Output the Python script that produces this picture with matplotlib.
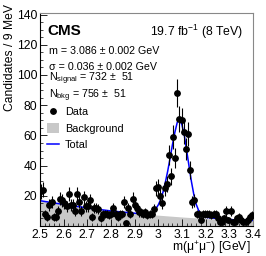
import matplotlib.pyplot as plt
import numpy as np
from matplotlib.lines import Line2D
from matplotlib.patches import Patch
from matplotlib.ticker import MultipleLocator

plt.rcParams['font.family'] = ['Liberation Sans', 'DejaVu Sans']
plt.rcParams['mathtext.fontset'] = 'custom'
plt.rcParams['mathtext.rm'] = 'Liberation Sans'
plt.rcParams['mathtext.it'] = 'Liberation Sans:italic'

# data: 100 bins of 9 MeV from 2.5 to 3.4 GeV
bin_lo = 2.5
bin_w = 0.009
counts = np.array([
    23, 24, 8, 6, 14, 16, 6, 6, 10, 18,
    17, 15, 13, 21, 14, 14, 10, 21, 16, 10,
    19, 13, 13, 17, 6, 12, 12, 11, 5, 8,
    8, 8, 7, 8, 12, 8, 6, 8, 8, 16,
    2, 12, 8, 18, 14, 12, 9, 9, 8, 9,
    7, 8, 8, 11, 25, 26, 20, 15, 25, 28,
    47, 33, 59, 45, 88, 71, 70, 62, 51, 61,
    37, 16, 17, 8, 8, 4, 8, 8, 8, 8,
    7, 8, 8, 5, 3, 3, 5, 10, 4, 10,
    3, 3, 5, 6, 4, 3, 3, 4, 6, 7,
])

# fit curves
bkg_m = [2.5, 2.6, 2.7, 2.8, 2.9, 3.0, 3.1, 3.2, 3.3, 3.4]
bkg_y = [16.8, 14.3, 12.0, 10.0, 8.5, 7.2, 6.0, 5.0, 4.3, 3.7]

tot_m = [2.5, 2.6, 2.7, 2.8, 2.9, 2.95, 2.96, 2.97, 2.98, 2.99, 3.00, 3.01,
         3.02, 3.03, 3.04, 3.05, 3.06, 3.07, 3.08, 3.086, 3.09, 3.10, 3.11,
         3.12, 3.13, 3.14, 3.15, 3.16, 3.17, 3.18, 3.19, 3.20, 3.25, 3.3, 3.4]
tot_y = [16.8, 14.3, 12.0, 10.0, 8.5, 7.9, 8.0, 8.6, 9.8, 11.5, 14.0, 17.5,
         22.5, 29.0, 36.5, 45.0, 54.0, 62.0, 68.5, 70.5, 70.5, 67.0, 60.0,
         50.0, 39.5, 29.5, 21.0, 14.5, 10.5, 8.0, 6.6, 5.8, 4.9, 4.3, 3.7]

x_ticks = [2.5, 2.6, 2.7, 2.8, 2.9, 3.0, 3.1, 3.2, 3.3, 3.4]
x_ticklabels = ['2.5', '2.6', '2.7', '2.8', '2.9', '3', '3.1', '3.2', '3.3', '3.4']
y_ticks = [20, 40, 60, 80, 100, 120, 140]

centers = bin_lo + bin_w * (np.arange(len(counts)) + 0.5)
errs = np.sqrt(counts)

fig = plt.figure(figsize=(2.66, 2.56), dpi=100)
ax = fig.add_axes([0.150, 0.117, 0.801, 0.832])

ax.fill_between(bkg_m, 0, bkg_y, color='#c8c8c8', lw=0, zorder=1)
ax.plot(tot_m, tot_y, color='#0000ff', lw=1.1, zorder=2)
ax.errorbar(centers, counts, yerr=errs, fmt='o', color='black', ms=3.9,
            elinewidth=0.8, capsize=0, zorder=3)

ax.set_xlim(2.5, 3.4)
ax.set_ylim(0, 141)
ax.set_xticks(x_ticks)
ax.set_xticklabels(x_ticklabels)
ax.set_yticks(y_ticks)
ax.xaxis.set_minor_locator(MultipleLocator(0.02))
ax.yaxis.set_minor_locator(MultipleLocator(5))
ax.tick_params(which='both', direction='in', labelsize=8.7, pad=2)
ax.tick_params(which='major', length=5, width=0.6)
ax.tick_params(which='minor', length=2.5, width=0.5)
for s in ['top', 'right']:
    ax.spines[s].set_color('#888888')
for s in ax.spines.values():
    s.set_linewidth(0.8)

ax.text(0.033, 0.915, 'CMS', transform=ax.transAxes, fontsize=11,
        fontweight='bold', va='center', ha='left')
ax.text(0.953, 0.913, r'19.7 fb$\mathregular{^{-1}}$ (8 TeV)', transform=ax.transAxes,
        fontsize=8.8, va='center', ha='right')
ax.text(0.042, 0.822, 'm = 3.086 ± 0.002 GeV', transform=ax.transAxes,
        fontsize=7.7, va='center')
ax.text(0.042, 0.748, 'σ = 0.036 ± 0.002 GeV', transform=ax.transAxes,
        fontsize=7.7, va='center')
ax.text(0.042, 0.690, r'N$\mathregular{_{signal}}$ = 732 ±  51', transform=ax.transAxes,
        fontsize=7.7, va='center')
ax.text(0.042, 0.612, r'N$\mathregular{_{bkg}}$ = 756 ±  51', transform=ax.transAxes,
        fontsize=7.7, va='center')

handles = [Line2D([], [], marker='o', color='black', ls='none', ms=3.9),
           Patch(facecolor='#c8c8c8', edgecolor='none'),
           Line2D([], [], color='#0000ff', lw=1.1)]
ax.legend(handles, ['Data', 'Background', 'Total'], loc='upper left',
          bbox_to_anchor=(0.035, 0.56), frameon=False, fontsize=7.8,
          handlelength=1.1, handleheight=1.0, handletextpad=0.5,
          labelspacing=0.55, borderaxespad=0, borderpad=0)

fig.text(10 / 266, 1 - 4 / 256, 'Candidates / 9 MeV', rotation=90,
         ha='center', va='top', fontsize=8.7)
fig.text(251 / 266, 0.031, r'm($\mathregular{\mu^{+}\mu^{-}}$) [GeV]',
         ha='right', va='center', fontsize=8.7)

plt.savefig('out.png', dpi=100)
